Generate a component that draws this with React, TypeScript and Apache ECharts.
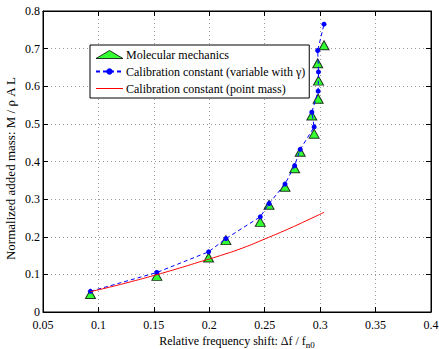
import React, { useEffect, useRef } from "react";
import * as echarts from "echarts";

// Molecular mechanics (relative frequency shift, normalized added mass)
const mdShift = [0.0928, 0.1527, 0.1994, 0.215, 0.246, 0.2539, 0.2683, 0.277, 0.282, 0.2946, 0.2925, 0.2982, 0.2985, 0.2978, 0.3035];
const mdMass = [0.048, 0.096, 0.145, 0.191, 0.2395, 0.285, 0.333, 0.382, 0.426, 0.474, 0.522, 0.567, 0.615, 0.661, 0.709];

// Calibration constant (variable with gamma), evaluated at the same shifts
const calMass = [0.055, 0.105, 0.16, 0.195, 0.253, 0.288, 0.34, 0.389, 0.432, 0.492, 0.531, 0.587, 0.638, 0.695, 0.765];

// Calibration constant (point mass) curve readings
const pmShift = [0.0928, 0.11, 0.13, 0.15, 0.17, 0.19, 0.21, 0.23, 0.25, 0.27, 0.29, 0.3036];
const pmMass = [0.054, 0.066, 0.081, 0.097, 0.114, 0.132, 0.15, 0.17, 0.194, 0.219, 0.246, 0.265];

const xTicks = { min: 0.05, max: 0.4, interval: 0.05 };
const yTicks = { min: 0, max: 0.8, interval: 0.1 };

const legendNames = [
  "Molecular mechanics",
  "Calibration constant (variable with γ)",
  "Calibration constant (point mass)",
];

const FONT = "Liberation Serif";

export default function App() {
  const ref = useRef<HTMLDivElement>(null);
  useEffect(() => {
    document.body.style.margin = "0";
    const chart = echarts.init(ref.current!, null, { renderer: "svg" });
    const tick = { show: true, inside: true, length: 5, lineStyle: { color: "#000", width: 1 } };
    const line = { show: true, onZero: false, lineStyle: { color: "#000", width: 1 } };
    const labelStyle = { color: "#000", fontFamily: FONT, fontSize: 12 };
    const grid = { color: "#999", type: [1, 3], width: 1 };
    chart.setOption({
      animation: false,
      backgroundColor: "#fff",
      grid: {
        left: 43,
        right: 8,
        top: 11,
        bottom: 37,
        show: true,
        borderColor: "#000",
        borderWidth: 1,
        outerBoundsMode: "none",
        containLabel: false,
      },
      legend: {
        left: 90,
        top: 45,
        orient: "vertical",
        backgroundColor: "#fff",
        borderColor: "#000",
        borderWidth: 1,
        borderRadius: 0,
        padding: [3, 4, 3, 5],
        itemWidth: 27,
        itemHeight: 8,
        itemGap: 4,
        textStyle: { ...labelStyle, padding: [0, 0, 0, -2], lineHeight: 13 },
        data: [
          { name: legendNames[0], icon: "triangle", itemStyle: { borderColor: "#000", borderWidth: 1 } },
          { name: legendNames[1] },
          { name: legendNames[2], icon: "path://M0,0H27V1H0Z", itemStyle: { color: "#ff0000" } },
        ],
      },
      xAxis: [
        {
          type: "value",
          position: "bottom",
          ...xTicks,
          axisLine: line,
          axisTick: tick,
          splitLine: { show: true, lineStyle: grid },
          axisLabel: { ...labelStyle, margin: 7 },
          name: "{a|Relative frequency shift: Δf / f}{b|n0}",
          nameLocation: "middle",
          nameGap: 22,
          nameMoveOverlap: false,
          nameTextStyle: {
            rich: {
              a: { ...labelStyle, fontSize: 12, lineHeight: 13 },
              b: { ...labelStyle, fontSize: 9, lineHeight: 10, padding: [8, 0, 0, 0] },
            },
          },
        },
        {
          type: "value",
          position: "top",
          ...xTicks,
          axisLine: line,
          axisTick: tick,
          splitLine: { show: false },
          axisLabel: { show: false },
        },
      ],
      yAxis: [
        {
          type: "value",
          position: "left",
          ...yTicks,
          axisLine: line,
          axisTick: tick,
          splitLine: { show: true, lineStyle: grid },
          axisLabel: { ...labelStyle, margin: 3 },
          name: "Normalized added mass: M / ρ A L",
          nameLocation: "middle",
          nameGap: 26,
          nameMoveOverlap: false,
          nameTextStyle: { ...labelStyle, fontSize: 13, padding: [0, 14, 0, 0] },
        },
        {
          type: "value",
          position: "right",
          ...yTicks,
          axisLine: line,
          axisTick: tick,
          splitLine: { show: false },
          axisLabel: { show: false },
        },
      ],
      series: [
        {
          name: legendNames[0],
          type: "scatter",
          symbol: "triangle",
          symbolSize: [10, 9],
          itemStyle: { color: "#00ff00", borderColor: "#000", borderWidth: 1 },
          data: mdShift.map((x, i) => [x, mdMass[i]]),
          z: 2,
        },
        {
          name: legendNames[1],
          type: "line",
          symbol: "circle",
          symbolSize: 5,
          showSymbol: true,
          itemStyle: { color: "#0000ff" },
          lineStyle: { color: "#0000ff", width: 1, type: [4, 3] },
          data: mdShift.map((x, i) => [x, calMass[i]]),
          z: 3,
        },
        {
          name: legendNames[2],
          type: "line",
          symbol: "none",
          smooth: true,
          itemStyle: { color: "#ff0000" },
          lineStyle: { color: "#ff0000", width: 1 },
          data: pmShift.map((x, i) => [x, pmMass[i]]),
          z: 4,
        },
      ],
    });
    return () => chart.dispose();
  }, []);
  return <div ref={ref} style={{ width: 439, height: 349 }} />;
}
